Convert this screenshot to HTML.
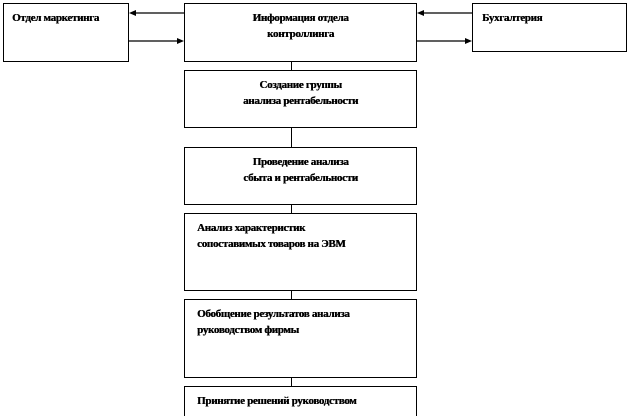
<!DOCTYPE html>
<html style="overflow:hidden"><head><meta charset="utf-8"><style>
html,body{margin:0;height:416px;overflow:hidden}
body{width:630px;background:#fff;position:relative;font-family:"Liberation Serif",serif;font-weight:bold;font-size:11px;color:#000;letter-spacing:-0.3px;text-shadow:0.4px 0 0 #000}
.b{position:absolute;border:1px solid #000;box-sizing:border-box;background:#fff}
.c{text-align:center;line-height:16px;padding-top:6px}
.l{text-align:left;line-height:16px;padding:6px 0 0 12px}
.v{position:absolute;width:1px;background:#000;left:291px}
</style></head><body>
<div class="b l" style="left:3px;top:3px;width:126px;height:59px;padding-left:8px">Отдел маркетинга</div>
<div class="b c" style="left:184px;top:3px;width:233px;height:59px">Информация отдела<br>контроллинга</div>
<div class="b l" style="left:472px;top:3px;width:155px;height:49px;padding-left:9px">Бухгалтерия</div>
<div class="b c" style="left:184px;top:70px;width:233px;height:58px">Создание группы<br>анализа рентабельности</div>
<div class="b c" style="left:184px;top:147px;width:233px;height:58px">Проведение анализа<br>сбыта и рентабельности</div>
<div class="b l" style="left:184px;top:213px;width:233px;height:78px">Анализ характеристик<br>сопоставимых товаров на ЭВМ</div>
<div class="b l" style="left:184px;top:299px;width:233px;height:79px">Обобщение результатов анализа<br>руководством фирмы</div>
<div class="b l" style="left:184px;top:386px;width:233px;border-bottom:none;height:30px">Принятие решений руководством</div>
<div class="v" style="top:62px;height:8px"></div>
<div class="v" style="top:128px;height:19px"></div>
<div class="v" style="top:205px;height:8px"></div>
<div class="v" style="top:291px;height:8px"></div>
<div class="v" style="top:378px;height:8px"></div>
<svg width="630" height="416" style="position:absolute;left:0;top:0">
<g stroke="#000" stroke-width="1.2">
<line x1="184" y1="13" x2="134" y2="13"/>
<line x1="129" y1="41" x2="179" y2="41"/>
<line x1="472" y1="13" x2="422" y2="13"/>
<line x1="417" y1="41" x2="467" y2="41"/>
</g>
<g fill="#000">
<polygon points="129,13 136,10 136,16"/>
<polygon points="184,41 177,38 177,44"/>
<polygon points="417,13 424,10 424,16"/>
<polygon points="472,41 465,38 465,44"/>
</g>
</svg>
</body></html>
